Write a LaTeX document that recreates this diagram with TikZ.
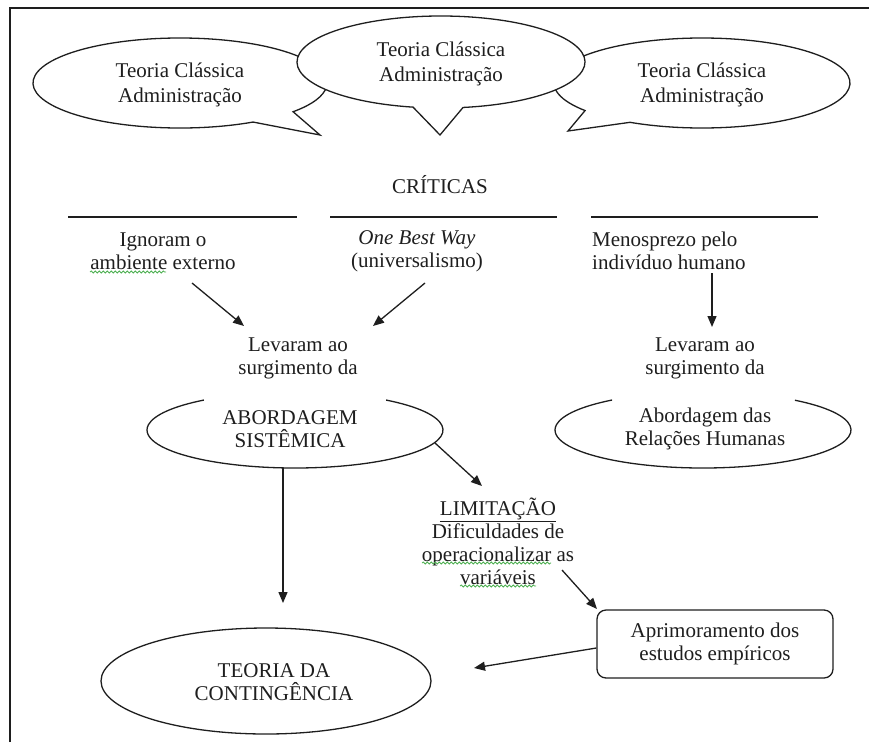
\documentclass[tikz,border=0pt]{standalone}
\usepackage{fontspec}
\setmainfont{Liberation Serif}
\usetikzlibrary{arrows.meta,shapes.geometric,calc,decorations.pathmorphing}
\definecolor{ink}{HTML}{1E1E1E}
\definecolor{spell}{HTML}{4CAF50}
\begin{document}
\begin{tikzpicture}[x=1pt,y=-1pt,
  txt/.style={align=center, inner sep=0pt, text=ink, font=\fontsize{21}{23}\selectfont},
  btxt/.style={txt, font=\fontsize{21}{25}\selectfont},
  shp/.style={draw=ink, line width=1.3pt},
  arr/.style={draw=ink, line width=1.3pt, -{Triangle[length=11pt,width=9pt]}},
  rulel/.style={draw=ink, line width=1.3pt},
  squig/.style={draw=spell, line width=0.8pt, decorate, decoration={snake, segment length=4pt, amplitude=1pt}}]
\useasboundingbox (0,0) rectangle (869,742);
\draw[line width=2pt, ink] (9.5,742) -- (9.5,7.5) -- (869,7.5);

% speech bubbles
\coordinate (bl) at (180,83);
\coordinate (bm) at (441,62);
\coordinate (br) at (702,83);
\coordinate (tl) at (320,135);
\coordinate (tm) at (440,135);
\coordinate (tr) at (568,131);
\draw[shp, fill=white] (tl) -- ($(bl)+(60.2:147 and 45)$) arc[start angle=60.2, end angle=399.7, x radius=147, y radius=45] -- cycle;
\draw[shp, fill=white] (tr) -- ($(br)+(142.2:148 and 45)$) arc[start angle=142.2, end angle=479.1, x radius=148, y radius=45] -- cycle;
\draw[shp, fill=white] (tm) -- ($(bm)+(101.2:144 and 46)$) arc[start angle=101.2, end angle=441.2, x radius=144, y radius=46] -- cycle;
\node[btxt] (tl1) at (180,84.5) {Teoria Clássica\\Administração};
\node[btxt] (tm1) at (441,63.5) {Teoria Clássica\\Administração};
\node[btxt] (tr1) at (702,84.5) {Teoria Clássica\\Administração};

% criticas
\node[txt] (crit) at (440,185) {CRÍTICAS};
\draw[rulel] (68,217) -- (297,217);
\draw[rulel] (330,217) -- (557,217);
\draw[rulel] (591,217) -- (818,217);
\node[txt] (c1) at (163,251) {Ignoram o\\ambiente externo};
\node[txt] (c2) at (417,251) {\textit{One Best Way}\\(universalismo)};
\node[txt, align=left, anchor=west] (c3) at (592,251) {Menosprezo pelo\\indivíduo humano};
\draw[squig] (90,272) -- (166,272);

\node[txt] (lev1) at (298,358) {Levaram ao\\surgimento da};
\node[txt] (lev2) at (705,358) {Levaram ao\\surgimento da};

\coordinate (a1s) at (192,283); \coordinate (a1e) at (244,326);
\coordinate (a2s) at (425,283); \coordinate (a2e) at (373,326);
\coordinate (a3s) at (712,273); \coordinate (a3e) at (712,327);
\draw[arr] (a1s) -- (a1e);
\draw[arr] (a2s) -- (a2e);
\draw[arr] (a3s) -- (a3e);

% open-top ellipses
\coordinate (absC) at (295,430);
\coordinate (arhC) at (703,430);
\draw[shp] (absC) ++(-52:148 and 38) arc[start angle=-52, end angle=232, x radius=148, y radius=38];
\draw[shp] (arhC) ++(-51.6:148 and 38) arc[start angle=-51.6, end angle=232.1, x radius=148, y radius=38];
\node[txt] (abs) at (290,429) {ABORDAGEM\\SISTÊMICA};
\node[txt] (arh) at (705,429) {Abordagem das\\Relações Humanas};

% limitacao
\node[txt] (lim) at (498,541) {\underline{LIMITAÇÃO}\\Dificuldades de\\operacionalizar as\\variáveis};
\draw[squig] (422,563) -- (551,563);
\draw[squig] (460,586) -- (536,586);
\coordinate (l1s) at (435,443); \coordinate (l1e) at (482,486);
\draw[arr] (l1s) -- (l1e);

\node[draw=ink, line width=1.3pt, rounded corners=9pt, minimum width=236pt, minimum height=68pt, inner sep=0pt] (box) at (715,644) {};
\node[txt] (boxt) at (715,644) {Aprimoramento dos\\estudos empíricos};
\coordinate (l2s) at (562,570); \coordinate (l2e) at (597,609);
\draw[arr] (l2s) -- (l2e);

% teoria da contingencia
\node[draw=ink, line width=1.3pt, ellipse, minimum width=330pt, minimum height=106pt, inner sep=0pt] (tc) at (266,681) {};
\node[txt] (tct) at (274,682) {TEORIA DA\\CONTINGÊNCIA};
\coordinate (v1s) at (283,468); \coordinate (v1e) at (283,603);
\draw[arr] (v1s) -- (v1e);
\coordinate (bxa) at (474,668);
\draw[arr] ([yshift=-4pt]box.west) -- (bxa);
\end{tikzpicture}
\end{document}
